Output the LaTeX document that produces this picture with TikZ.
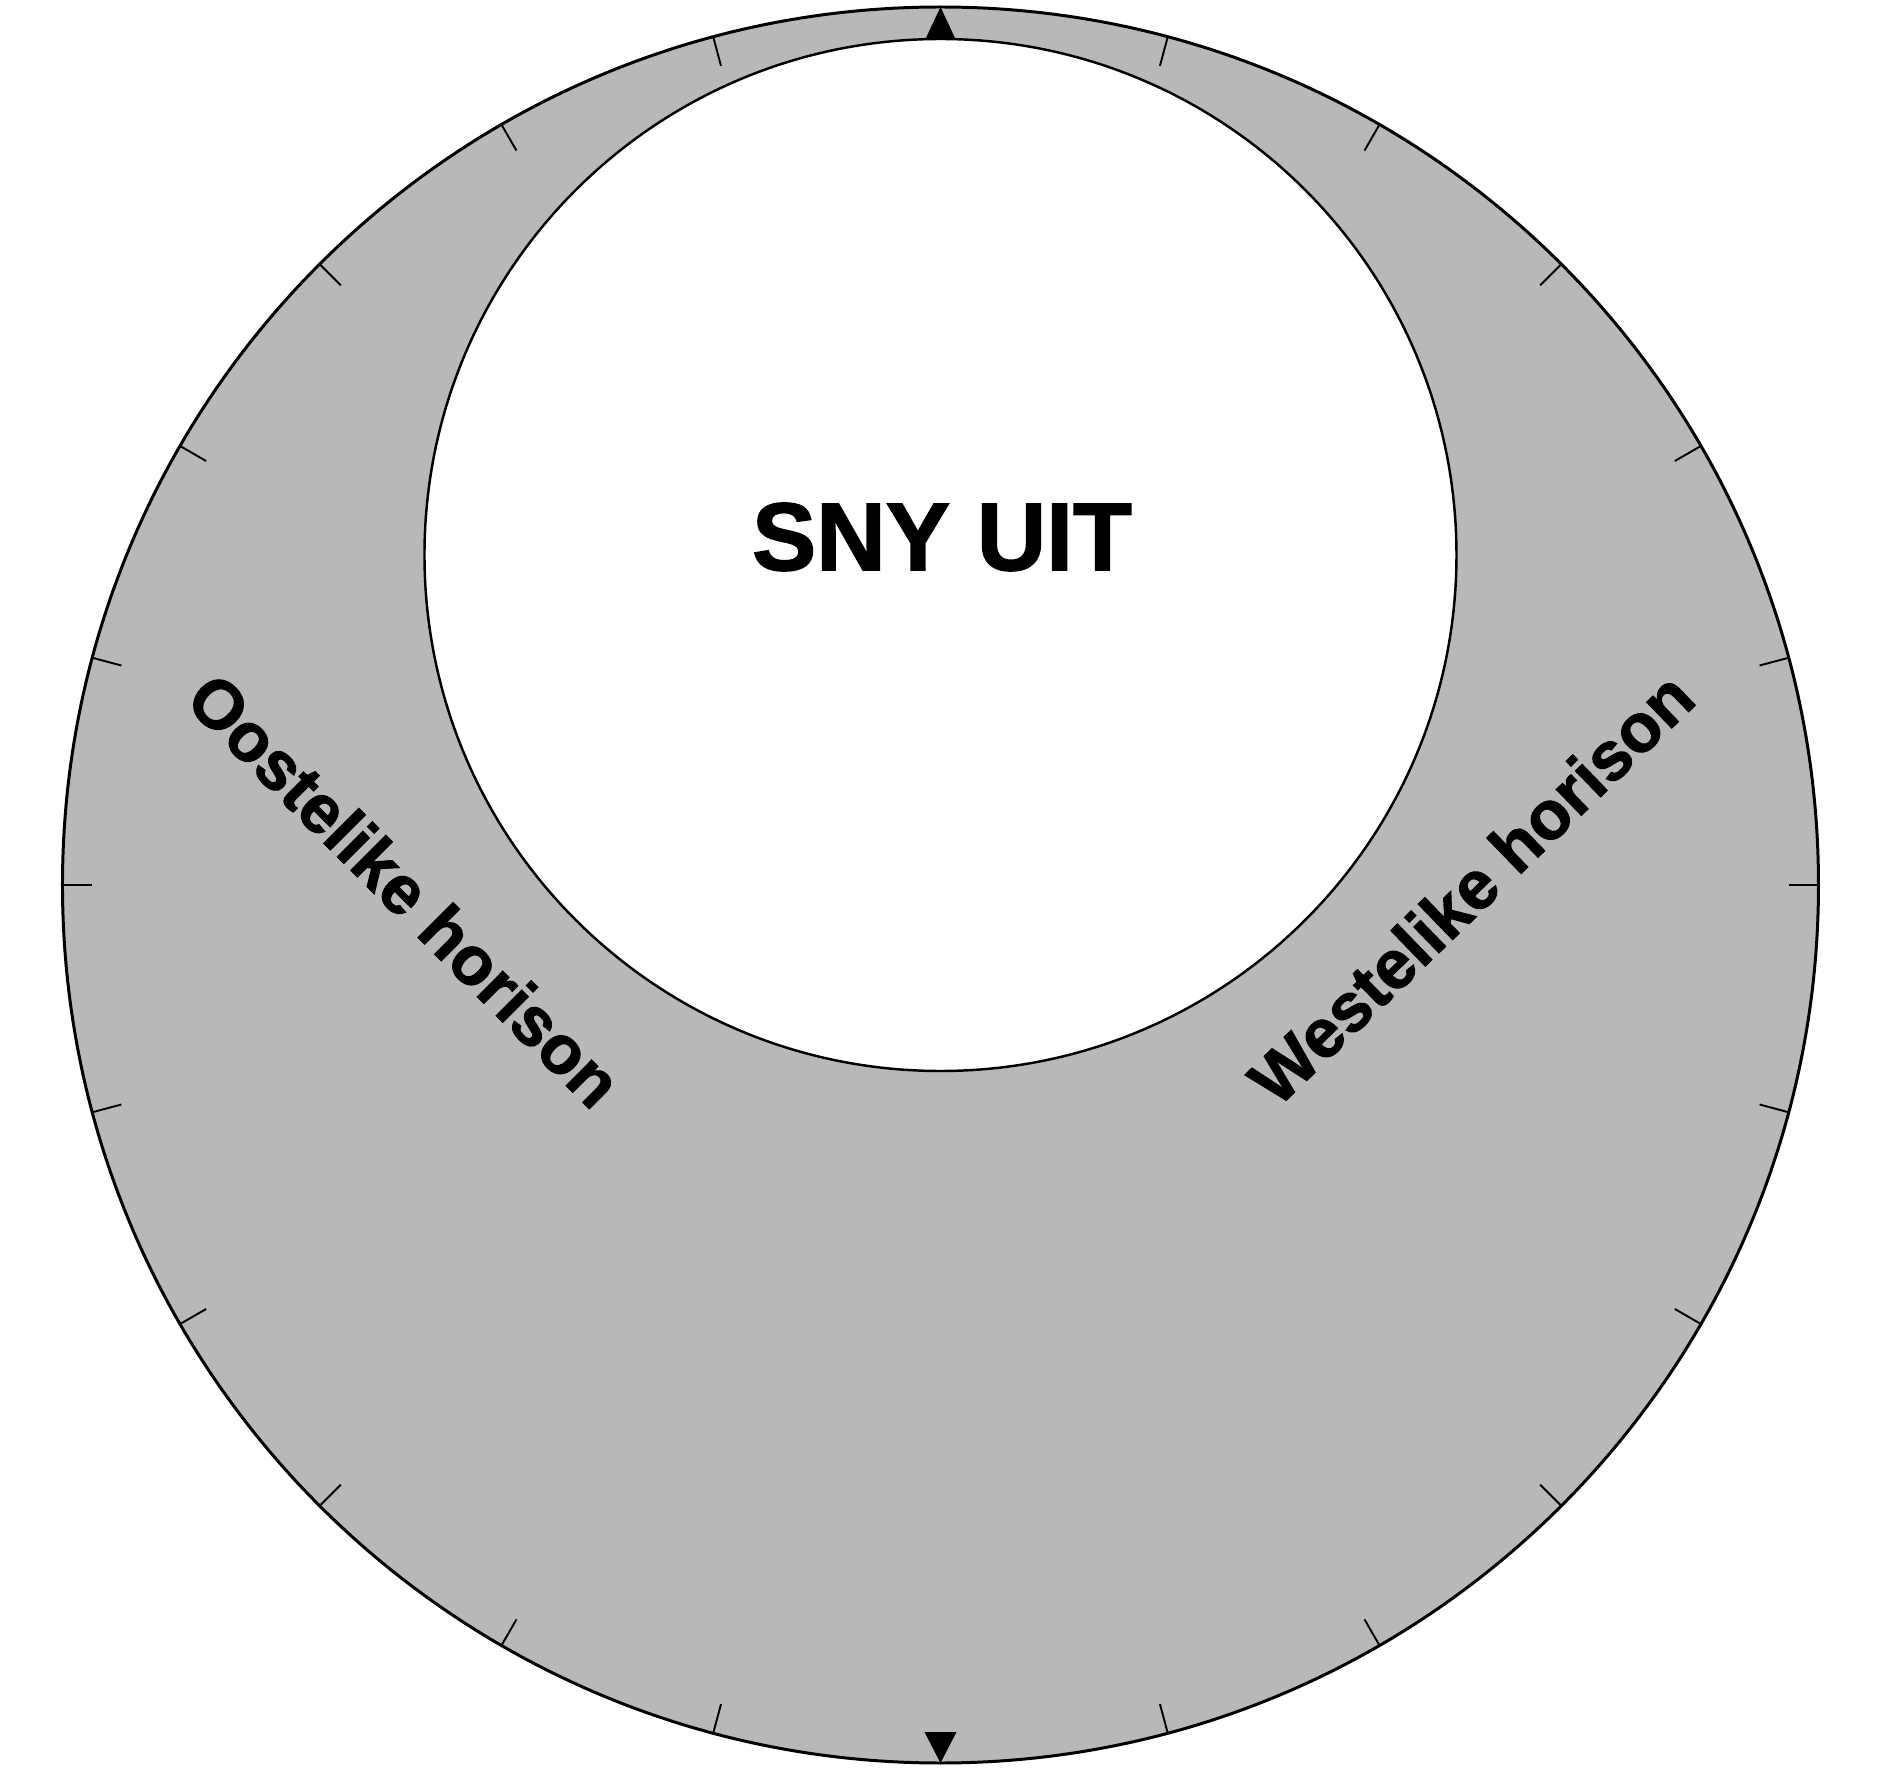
\documentclass[tikz,border=0pt]{standalone}
\usepackage{fontspec}
\newfontfamily\heavyfont[FakeBold=1.5]{Liberation Sans}
\definecolor{ringgray}{RGB}{184,184,184}

\tikzset{
    label/.style={font=\heavyfont\bfseries\fontsize{19.5}{23}\selectfont, inner sep=0pt},
    tick/.style={line width=0.55pt}
}

\begin{document}
\begin{tikzpicture}
    \useasboundingbox (-9.405,-8.87) rectangle (9.495,8.85);
    \coordinate (centre) at (0,0);
    \coordinate (hole) at (0,3.30);
    \fill[ringgray, draw=black, line width=0.85pt] (centre) circle (8.78);
    \fill[white, draw=black, line width=0.7pt] (hole) circle (5.16);
    \foreach \a in {0,15,...,75,105,120,...,255,285,300,...,345}
        \draw[tick] (\a:8.78) -- (\a:8.48);
    \fill (0,8.78) -- (-0.15,8.46) -- (0.15,8.46) -- cycle;
    \fill (0,-8.78) -- (-0.16,-8.47) -- (0.16,-8.47) -- cycle;
    \node[font=\heavyfont\bfseries\fontsize{27.4}{32}\selectfont, inner sep=0pt] at (0.015,3.48) (sny) {SNY UIT};
    \node[label, rotate=-45] at (-5.355,-0.05) (oos) {Oostelike horison};
    \node[label, rotate=44] at (5.305,-0.03) (wes) {Westelike horison};
\end{tikzpicture}
\end{document}
